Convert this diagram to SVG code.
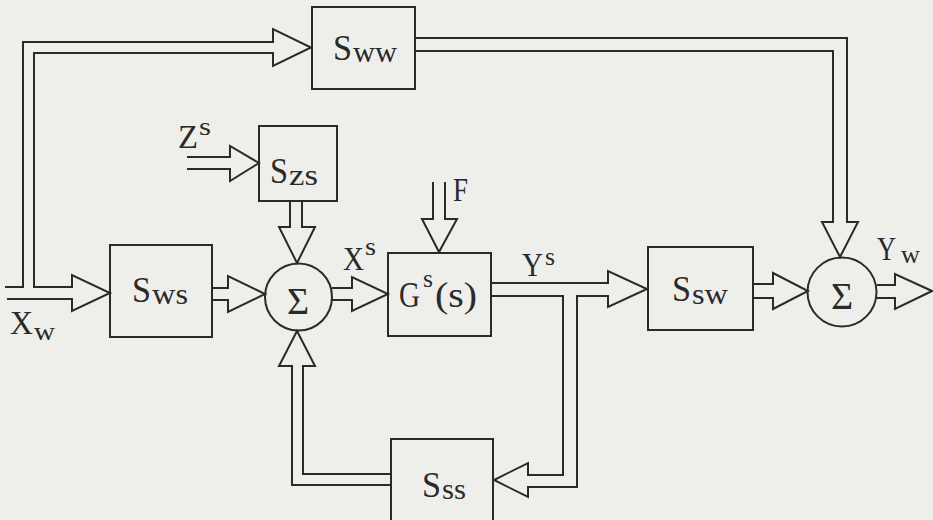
<svg xmlns="http://www.w3.org/2000/svg" width="933" height="520" viewBox="0 0 933 520">
<style>
.bg{fill:#eeefeb}
.box{fill:none;stroke:#2a2a2a;stroke-width:2}
.ln{fill:none;stroke:#2a2a2a;stroke-width:2;stroke-linejoin:miter}
.sum{fill:none;stroke:#2a2a2a;stroke-width:2}
.t{font-family:"Liberation Serif","Times New Roman",serif;fill:#2a2a2a;font-size:35px}
.s{font-family:"Liberation Serif","Times New Roman",serif;fill:#2a2a2a;font-size:29px}
.l{font-family:"Liberation Serif","Times New Roman",serif;fill:#2a2a2a;font-size:33px}
.u{font-family:"Liberation Serif","Times New Roman",serif;fill:#2a2a2a;font-size:26px}
.g{font-family:"Liberation Serif","Times New Roman",serif;fill:#2a2a2a;font-size:38px}
</style>
<rect class="bg" x="0" y="0" width="933" height="520"/>
<g id="connectors">
<path class="ln" d="M5,287 H23 V42 H273 V29 L311,47.5 L273,66 V53 H34 V287 H72 V275 L110,293 L72,311 V299 H7"/>
<path class="ln" d="M415,38 H847 V222 H858 L840,257 L822,222 H833 V51 H415"/>
<path class="ln" d="M187,157 H230 V146 L259,163 L230,181 V169 H187"/>
<path class="ln" d="M290,201 V227 H279 L297,263 L315,227 H302 V201"/>
<path class="ln" d="M212,288 H228 V276 L265,294 L228,312 V300 H212"/>
<path class="ln" d="M332,288 H352 V277 L388,294 L352,311 V300 H332"/>
<path class="ln" d="M433,182 V219 H422 L439,252 L457,219 H445 V182"/>
<path class="ln" d="M491,283 H608 V271 L647,289 L608,307 V296 H577 V487 H528 V497 L494,480 L528,463 V475 H563 V296 H491"/>
<path class="ln" d="M391,474 H303 V366 H315 L297,331 L279,366 H292 V485 H391"/>
<path class="ln" d="M753,284 H773 V273 L808,291 L773,309 V298 H753"/>
<path class="ln" d="M877,285 H895 V274 L932,291 L895,309 V298 H877"/>
</g>
<g id="labels">
<text class="l" x="10" y="334" textLength="23" lengthAdjust="spacingAndGlyphs">X</text>
<text class="u" x="34" y="340" textLength="21" lengthAdjust="spacingAndGlyphs">w</text>
<text class="l" x="178" y="148" textLength="20" lengthAdjust="spacingAndGlyphs">Z</text>
<text class="u" x="199" y="135" textLength="12" lengthAdjust="spacingAndGlyphs">s</text>
<text class="l" x="343" y="270" textLength="21" lengthAdjust="spacingAndGlyphs">X</text>
<text class="u" x="365" y="255" textLength="11" lengthAdjust="spacingAndGlyphs">s</text>
<text class="l" x="453" y="201" textLength="15" lengthAdjust="spacingAndGlyphs">F</text>
<text class="l" x="522" y="276" textLength="21" lengthAdjust="spacingAndGlyphs">Y</text>
<text class="u" x="545" y="265" textLength="10" lengthAdjust="spacingAndGlyphs">s</text>
<text class="l" x="877" y="260" textLength="19" lengthAdjust="spacingAndGlyphs">Y</text>
<text class="u" x="901" y="263" textLength="19" lengthAdjust="spacingAndGlyphs">w</text>
</g>
<g id="Sww">
<rect class="box" x="312" y="7" width="103" height="82"/>
<text class="t" x="333" y="60" textLength="19" lengthAdjust="spacingAndGlyphs">S</text>
<text class="s" x="353" y="62" textLength="44" lengthAdjust="spacingAndGlyphs">ww</text>
</g>
<g id="Szs">
<rect class="box" x="259" y="126" width="78" height="75"/>
<text class="t" x="270" y="183" textLength="18" lengthAdjust="spacingAndGlyphs">S</text>
<text class="s" x="289" y="185" textLength="29" lengthAdjust="spacingAndGlyphs">zs</text>
</g>
<g id="Sws">
<rect class="box" x="110" y="245" width="102" height="92"/>
<text class="t" x="132" y="302" textLength="19" lengthAdjust="spacingAndGlyphs">S</text>
<text class="s" x="152" y="304" textLength="36" lengthAdjust="spacingAndGlyphs">ws</text>
</g>
<g id="sum1">
<circle class="sum" cx="298.5" cy="297" r="33.5"/>
<text class="g" x="298" y="314" text-anchor="middle">Σ</text>
</g>
<g id="G">
<rect class="box" x="388" y="253" width="103" height="83"/>
<text class="t" x="399" y="307" textLength="21" lengthAdjust="spacingAndGlyphs">G</text>
<text class="u" x="423" y="287" textLength="10" lengthAdjust="spacingAndGlyphs">s</text>
<text class="t" x="435" y="307" textLength="42" lengthAdjust="spacingAndGlyphs">(s)</text>
</g>
<g id="Ssw">
<rect class="box" x="648" y="247" width="105" height="83"/>
<text class="t" x="672" y="301" textLength="19" lengthAdjust="spacingAndGlyphs">S</text>
<text class="s" x="692" y="304" textLength="36" lengthAdjust="spacingAndGlyphs">sw</text>
</g>
<g id="Sss">
<rect class="box" x="391" y="439" width="102" height="100"/>
<text class="t" x="422" y="497" textLength="19" lengthAdjust="spacingAndGlyphs">S</text>
<text class="s" x="442" y="499" textLength="24" lengthAdjust="spacingAndGlyphs">ss</text>
</g>
<g id="sum2">
<circle class="sum" cx="842" cy="292" r="34.5"/>
<text class="g" x="842" y="309" text-anchor="middle">Σ</text>
</g>
</svg>
